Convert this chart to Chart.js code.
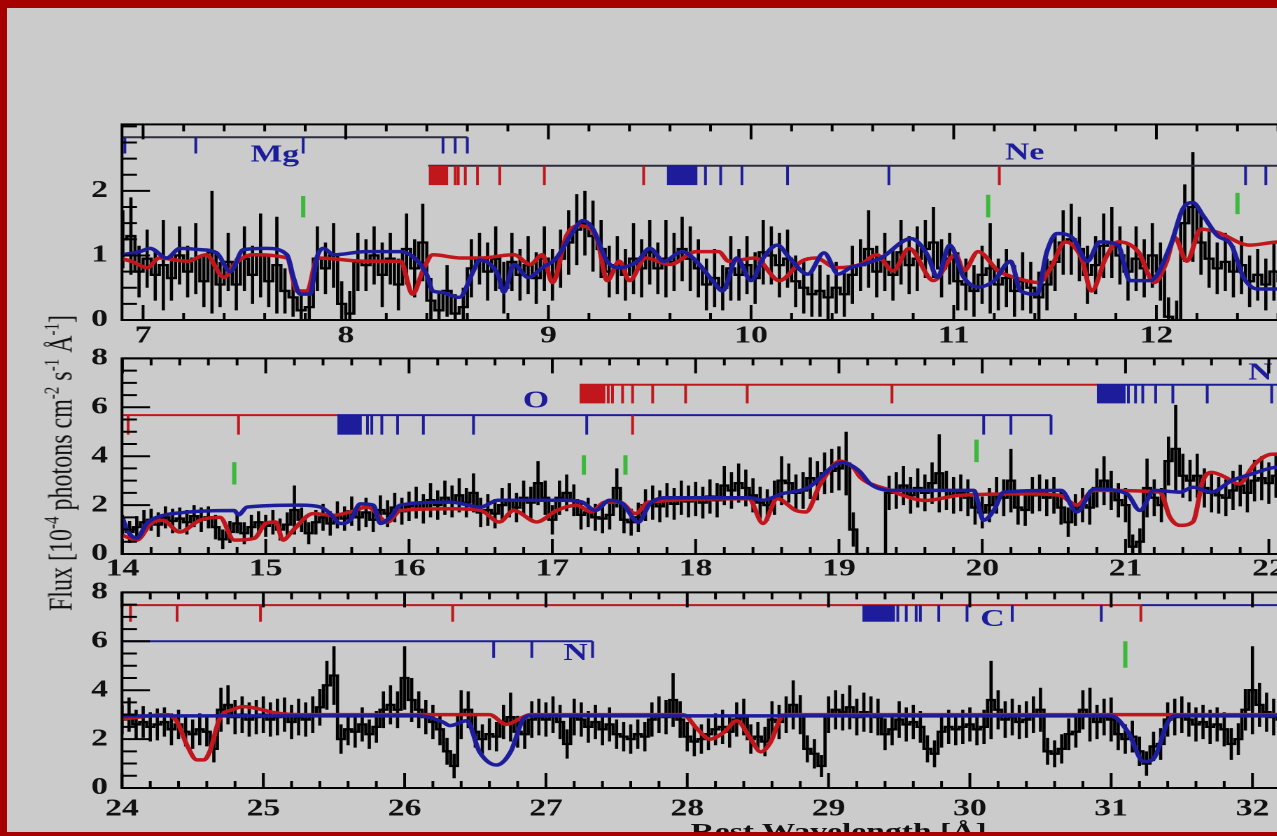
<!DOCTYPE html>
<html>
<head>
<meta charset="utf-8">
<title>Rest wavelength spectrum</title>
<script src="https://cdn.jsdelivr.net/npm/chart.js@4.4.1/dist/chart.umd.min.js"></script>
<style>
  html, body { margin: 0; padding: 0; width: 1277px; height: 836px; overflow: hidden; background: #cbcbcb; }
  #stage { position: absolute; left: 0; top: 0; width: 940px; height: 836px; transform: scaleX(1.4); transform-origin: 0 0; }
  #stage canvas { position: absolute; left: 0; }
  #ytitle { position: absolute; left: -156px; top: 449px; width: 400px; height: 28px; line-height: 28px; text-align: center;
            transform: rotate(-90deg); font: 24px "Liberation Serif", serif; color: #111; white-space: nowrap; }
  #ytitle sup { font-size: 15px; vertical-align: 9px; line-height: 0; }
  #xtitle { position: absolute; left: 399px; width: 400px; top: 818px; text-align: center; line-height: 24px;
            font: bold 24px "Liberation Serif", serif; color: #111; }
  #border { position: absolute; left: 0; top: 0; width: 1277px; height: 836px; box-sizing: border-box;
            border-style: solid; border-color: #a60000; border-width: 8px 0 4px 7px; pointer-events: none; }
</style>
</head>
<body>
<div id="stage">
  <canvas id="c1"></canvas>
  <canvas id="c2"></canvas>
  <canvas id="c3"></canvas>
  <div id="ytitle">Flux [10<sup>-4</sup> photons cm<sup>-2</sup> s<sup>-1</sup> Å<sup>-1</sup>]</div>
  <div id="xtitle">Rest Wavelength [Å]</div>
</div>
<div id="border"></div>

<script>
// ---------- panel 1 : 7 - 12.7 A ----------
const p1Start = 6.90, p1Bin = 0.04;
const p1Flux = [
  1.25, 1.30, 0.75, 0.95, 0.70, 0.85, 0.65, 1.00, 0.75, 0.95,
  0.60, 1.05, 0.55, 0.90, 0.55, 0.95, 0.70, 1.00, 0.60, 0.85,
  0.45, 0.35, 0.15, 0.20, 0.95, 0.80, 1.00, 0.25, 0.10, 0.90,
  0.85, 1.00, 0.70, 0.95, 0.55, 1.10, 0.80, 1.20, 0.30, 0.15,
  0.45, 0.10, 0.20, 0.80, 0.95, 0.75, 0.95, 0.50, 0.90, 0.70,
  0.85, 0.65, 0.95, 0.70, 0.95, 1.20, 1.40, 1.50, 1.30, 1.10,
  0.75, 0.85, 0.70, 0.95, 0.80, 1.05, 0.80, 0.95, 0.90, 1.10,
  0.95, 0.80, 0.55, 0.65, 0.50, 0.80, 0.70, 0.85, 0.65, 1.05,
  1.00, 0.85, 0.95, 0.60, 0.50, 0.40, 0.45, 0.35, 0.50, 0.40,
  0.70, 0.85, 1.10, 0.75, 0.90, 0.70, 1.05, 0.85, 0.95, 1.10,
  1.20, 0.80, 0.95, 0.60, 0.55, 0.45, 0.70, 0.80, 0.55, 0.65,
  0.45, 0.60, 0.50, 0.35, 0.55, 0.90, 1.20, 1.25, 1.10, 0.70,
  0.85, 1.15, 1.20, 1.00, 0.75, 0.95, 0.80, 1.00, 0.75, 0.05,
  0.00, 1.50, 1.75, 1.20, 0.95, 0.80, 0.90, 0.75, 0.85, 0.60,
  0.70, 0.55, 0.75, 0.60, 0.75, 0.65, 0.70
];
const p1Err = [
  0.45, 0.60, 0.40, 0.45, 0.40, 0.70, 0.35, 0.45, 0.40, 0.55,
  0.40, 0.95, 0.35, 0.45, 0.40, 0.50, 0.45, 0.65, 0.40, 0.75,
  0.35, 0.30, 0.30, 0.30, 0.50, 0.40, 0.50, 0.35, 0.35, 0.45,
  0.40, 0.45, 0.50, 0.40, 0.40, 0.55, 0.45, 0.60, 0.35, 0.30,
  0.40, 0.30, 0.30, 0.45, 0.40, 0.45, 0.50, 0.40, 0.45, 0.40,
  0.45, 0.40, 0.50, 0.40, 0.45, 0.50, 0.55, 0.50, 0.55, 0.45,
  0.40, 0.45, 0.40, 0.55, 0.45, 0.50, 0.40, 0.60, 0.45, 0.50,
  0.50, 0.45, 0.40, 0.45, 0.35, 0.50, 0.40, 0.45, 0.40, 0.50,
  0.45, 0.50, 0.45, 0.40, 0.40, 0.35, 0.40, 0.35, 0.40, 0.35,
  0.45, 0.40, 0.60, 0.40, 0.45, 0.40, 0.50, 0.45, 0.50, 0.45,
  0.55, 0.45, 0.40, 0.45, 0.40, 0.40, 0.45, 0.70, 0.40, 0.45,
  0.40, 0.45, 0.40, 0.40, 0.40, 0.45, 0.50, 0.55, 0.50, 0.45,
  0.45, 0.50, 0.55, 0.45, 0.45, 0.50, 0.45, 0.50, 0.45, 0.30,
  0.30, 0.60, 0.85, 0.50, 0.45, 0.40, 0.45, 0.40, 0.45, 0.40,
  0.40, 0.40, 0.45, 0.40, 0.40, 0.40, 0.40
];
const p1Red = [
  [6.895,0.95],[6.95,0.90],[7.02,0.81],[7.08,0.96],[7.22,0.91],[7.31,1.01],[7.40,0.66],[7.45,0.86],
  [7.54,1.01],[7.71,0.96],[7.76,0.45],[7.81,0.45],[7.86,0.96],[8.10,0.91],[8.27,0.91],[8.33,0.40],
  [8.38,0.76],[8.43,1.01],[8.57,0.96],[8.66,0.96],[8.83,1.01],[8.91,0.86],[8.97,1.01],[9.02,0.58],
  [9.09,1.31],[9.15,1.46],[9.24,1.26],[9.29,0.61],[9.35,0.91],[9.40,0.61],[9.48,0.96],[9.60,0.86],
  [9.73,1.06],[9.84,1.06],[9.89,0.91],[10.02,0.96],[10.14,0.61],[10.25,0.91],[10.32,0.96],[10.42,0.81],
  [10.54,0.86],[10.62,1.01],[10.70,0.76],[10.78,1.11],[10.90,0.61],[11.01,1.01],[11.05,0.76],[11.12,1.06],
  [11.22,0.76],[11.30,0.66],[11.42,0.58],[11.48,0.81],[11.55,1.21],[11.63,0.96],[11.68,0.45],[11.75,0.96],
  [11.81,1.21],[11.91,1.06],[11.99,0.58],[12.05,0.90],[12.09,1.28],[12.15,0.91],[12.22,1.41],[12.30,1.36],
  [12.46,1.16],[12.60,1.21],[12.77,1.22]
];
const p1Blue = [
  [6.895,1.01],[6.985,1.06],[7.034,1.11],[7.117,0.96],[7.182,1.11],[7.281,1.09],[7.363,1.04],[7.43,0.75],
  [7.495,1.09],[7.61,1.11],[7.71,1.01],[7.742,0.66],[7.775,0.40],[7.824,0.40],[7.857,0.96],[7.89,1.11],
  [7.94,1.01],[8.10,1.06],[8.27,1.06],[8.35,0.93],[8.40,0.70],[8.43,0.45],[8.47,0.43],[8.56,0.35],
  [8.63,0.76],[8.66,0.93],[8.75,0.71],[8.78,0.43],[8.83,0.86],[8.90,0.66],[8.97,0.81],[9.04,0.96],
  [9.11,1.31],[9.17,1.54],[9.22,1.41],[9.29,0.91],[9.35,0.81],[9.44,0.91],[9.50,1.11],[9.57,0.91],
  [9.66,1.06],[9.73,0.91],[9.81,0.61],[9.86,0.45],[9.93,0.96],[10.00,0.61],[10.06,0.96],[10.13,1.16],
  [10.19,0.96],[10.28,0.71],[10.36,1.04],[10.43,0.71],[10.49,0.81],[10.55,0.86],[10.64,0.96],[10.79,1.26],
  [10.87,1.01],[10.92,0.66],[10.98,1.16],[11.05,0.66],[11.12,0.51],[11.20,0.61],[11.28,0.91],[11.33,0.45],
  [11.41,0.40],[11.46,1.06],[11.51,1.34],[11.59,1.26],[11.66,0.91],[11.72,1.21],[11.81,1.16],[11.87,0.61],
  [11.97,0.61],[12.07,1.16],[12.13,1.72],[12.18,1.82],[12.23,1.62],[12.30,1.31],[12.37,1.16],[12.43,0.66],
  [12.50,0.48],[12.60,0.48],[12.77,0.50]
];
const p1XTicks = [7, 8, 9, 10, 11, 12];
const p1YTicks = [0, 1, 2];
const p1MgLines = [6.91, 7.26, 7.79, 8.48, 8.54, 8.60];
const p1RedBand = [8.41, 8.505];
const p1RedLines = [8.54, 8.555, 8.59, 8.65, 8.76, 8.98, 9.47, 11.225];
const p1BlueBand = [9.585, 9.735];
const p1BlueLines = [9.775, 9.85, 9.955, 10.18, 10.68, 12.44, 12.54];
const p1Green = [7.79, 11.17, 12.40];

// ---------- panel 2 : 14 - 22 A ----------
const p2Start = 14.00, p2Bin = 0.05;
const p2Flux = [
  1.20, 0.90, 1.10, 1.30, 1.40, 1.20, 1.50, 1.35, 1.45, 1.30,
  1.55, 1.40, 1.50, 1.10, 0.60, 0.90, 1.25, 0.85, 1.10, 1.30,
  1.15, 1.30, 1.00, 1.20, 1.80, 1.40, 0.85, 1.30, 1.50, 1.25,
  1.60, 1.45, 1.75, 1.50, 1.70, 1.40, 1.80, 1.65, 1.90, 1.75,
  1.95, 2.10, 1.85, 2.20, 2.00, 2.30, 2.15, 2.40, 2.10, 2.50,
  1.70, 1.80, 1.65, 2.00, 2.20, 1.90, 2.30, 2.10, 2.90, 2.30,
  1.40, 2.30, 2.50, 2.20, 1.60, 1.70, 1.50, 1.45, 1.60, 2.70,
  1.40, 1.30, 1.50, 2.00, 2.10, 1.95, 2.20, 2.05, 2.30, 2.15,
  2.25, 2.10, 2.35, 2.20, 2.80, 2.60, 2.90, 2.70, 2.40, 2.10,
  2.00, 2.30, 3.00, 2.90, 2.50, 2.60, 3.10, 3.00, 3.30, 3.40,
  3.50, 3.70, 1.00, 0.00, 0.00, 0.00, 0.00, 2.50, 2.60, 2.80,
  2.40, 2.70, 2.50, 2.90, 3.30, 2.60, 2.40, 2.50, 2.30, 1.90,
  1.70, 2.00, 2.40, 2.30, 3.00, 1.90, 1.80, 2.40, 2.50, 2.30,
  2.40, 1.90, 1.30, 1.80, 2.00, 1.90, 2.70, 3.00, 2.60, 2.20,
  2.00, 0.30, 0.50, 2.70, 2.30, 2.00, 3.80, 4.30, 3.20, 3.00,
  3.20, 2.70, 2.50, 2.40, 2.30, 2.60, 2.80, 2.50, 3.00, 3.10,
  2.90, 3.20, 3.00, 3.30, 3.10, 3.20, 3.30
];
const p2Err = [
  0.40, 0.45, 0.45, 0.50, 0.45, 0.50, 0.45, 0.50, 0.45, 0.50,
  0.45, 0.50, 0.45, 0.50, 0.40, 0.45, 0.40, 0.45, 0.50, 0.45,
  0.45, 0.50, 0.45, 0.50, 1.00, 0.50, 0.45, 0.50, 0.55, 0.50,
  0.55, 0.50, 0.60, 0.55, 0.60, 0.50, 0.60, 0.55, 0.60, 0.55,
  0.60, 0.65, 0.60, 0.70, 0.60, 0.70, 0.65, 0.70, 0.60, 0.80,
  0.60, 0.65, 0.60, 0.70, 0.70, 0.60, 0.70, 0.65, 0.90, 0.70,
  0.60, 0.70, 0.75, 0.65, 0.60, 0.60, 0.55, 0.60, 0.60, 0.80,
  0.55, 0.55, 0.60, 0.65, 0.70, 0.65, 0.70, 0.65, 0.70, 0.65,
  0.70, 0.65, 0.70, 0.70, 0.80, 0.75, 0.80, 0.75, 0.70, 0.65,
  0.65, 0.70, 1.00, 0.80, 0.75, 0.75, 0.85, 0.80, 0.85, 0.90,
  0.90, 1.30, 0.70, 0.00, 0.00, 0.00, 0.00, 0.70, 0.75, 0.80,
  0.75, 0.80, 0.75, 0.85, 1.60, 0.80, 0.75, 0.75, 0.75, 0.70,
  0.65, 0.70, 0.75, 0.75, 1.30, 0.70, 0.65, 0.75, 0.75, 0.75,
  0.75, 0.70, 0.60, 0.65, 0.70, 0.70, 0.80, 1.00, 0.80, 0.70,
  0.70, 0.50, 0.55, 1.20, 0.75, 0.70, 1.00, 1.80, 0.90, 0.85,
  0.90, 0.80, 0.80, 0.75, 0.75, 0.80, 0.85, 0.80, 0.85, 0.90,
  0.85, 0.90, 0.85, 0.90, 0.85, 0.90, 0.90
];
const p2Red = [
  [14.00,0.77],[14.10,0.57],[14.20,1.25],[14.28,1.38],[14.40,0.90],[14.54,1.38],[14.68,1.50],[14.78,0.57],
  [14.92,0.64],[15.00,1.25],[15.07,1.31],[15.12,0.57],[15.19,0.97],[15.33,1.65],[15.47,1.58],[15.59,1.72],
  [15.71,1.92],[15.85,1.31],[15.94,1.78],[16.29,1.85],[16.50,1.78],[16.63,1.31],[16.73,1.78],[16.89,1.31],
  [17.03,1.78],[17.17,2.00],[17.27,1.72],[17.37,2.12],[17.47,2.12],[17.58,1.65],[17.67,2.12],[18.37,2.26],
  [18.47,1.25],[18.57,2.26],[18.70,1.78],[18.77,1.72],[18.87,2.86],[19.01,3.80],[19.10,3.54],[19.15,3.13],
  [19.33,2.66],[19.61,2.19],[19.84,2.40],[20.31,2.46],[20.54,2.40],[20.66,2.00],[20.78,2.60],[21.24,2.53],
  [21.31,1.50],[21.38,1.17],[21.47,1.31],[21.54,3.00],[21.60,3.34],[21.70,3.13],[21.79,2.86],[21.90,3.67],
  [22.02,4.08],[22.30,4.10]
];
const p2Blue = [
  [14.00,1.50],[14.03,1.00],[14.10,0.65],[14.17,1.25],[14.24,1.50],[14.43,1.70],[14.78,1.78],[14.81,1.60],
  [14.87,1.92],[15.24,2.00],[15.38,1.92],[15.45,1.65],[15.52,1.25],[15.59,1.38],[15.66,2.05],[15.75,2.00],
  [15.80,1.25],[15.87,1.50],[15.94,2.00],[16.29,2.12],[16.50,1.92],[16.62,2.20],[17.09,2.20],[17.21,2.12],
  [17.30,1.78],[17.40,2.20],[17.49,2.05],[17.60,1.30],[17.68,2.05],[17.79,2.30],[18.37,2.30],[18.47,2.20],
  [18.60,2.46],[18.79,2.73],[18.95,3.54],[19.02,3.74],[19.14,3.40],[19.22,2.86],[19.36,2.60],[19.94,2.60],
  [20.01,1.38],[20.08,1.78],[20.15,2.53],[20.55,2.60],[20.66,1.72],[20.78,2.66],[21.01,2.46],[21.10,1.78],
  [21.20,2.60],[21.38,2.53],[21.47,2.73],[21.60,2.53],[21.74,3.00],[21.88,3.27],[22.04,3.54],[22.30,3.60]
];
const p2XTicks = [14, 15, 16, 17, 18, 19, 20, 21, 22];
const p2YTicks = [0, 2, 4, 6, 8];
const p2LowRedLines = [14.04, 14.81, 17.56];
const p2LowBlueBand = [15.50, 15.67];
const p2LowBlueLines = [15.71, 15.74, 15.81, 15.92, 16.10, 16.45, 17.24, 20.01, 20.20, 20.48];
const p2HighRedBand = [17.19, 17.37];
const p2HighRedLines = [17.39, 17.42, 17.49, 17.56, 17.70, 17.93, 18.36, 19.37];
const p2HighBlueBand = [20.80, 21.00];
const p2HighBlueLines = [21.02, 21.07, 21.12, 21.21, 21.33, 21.57, 22.02];
const p2Green = [14.78, 17.22, 17.51, 19.96];

// ---------- panel 3 : 24 - 32 A ----------
const p3Start = 24.00, p3Bin = 0.05;
const p3Flux = [
  2.80, 3.00, 2.60, 2.70, 2.50, 2.60, 2.70, 2.40, 2.60, 2.30,
  2.20, 2.40, 2.30, 1.60, 3.20, 3.40, 2.90, 3.00, 2.80, 2.90,
  3.00, 2.80, 2.90, 3.00, 2.70, 2.90, 2.80, 3.00, 3.30, 4.20,
  4.60, 2.00, 2.40, 2.30, 2.60, 2.20, 2.50, 3.20, 3.40, 3.20,
  4.50, 3.60, 3.20, 2.90, 2.70, 2.40, 1.50, 0.90, 3.00, 3.20,
  2.30, 2.00, 2.20, 2.10, 2.70, 2.90, 2.30, 2.20, 2.80, 2.90,
  2.80, 3.00, 2.70, 1.80, 2.90, 2.80, 2.50, 2.70, 2.40, 2.60,
  2.20, 2.10, 2.00, 2.20, 2.10, 2.80, 3.00, 2.90, 3.60, 2.80,
  2.10, 1.90, 2.00, 2.20, 2.40, 2.50, 2.30, 2.80, 2.90, 2.00,
  2.10, 1.90, 2.80, 2.70, 3.00, 3.40, 3.00, 1.60, 1.40, 0.90,
  3.00, 3.20, 3.10, 3.30, 2.90, 3.10, 3.00, 2.90, 2.20, 2.40,
  2.80, 2.60, 2.70, 2.50, 1.60, 1.40, 2.30, 2.50, 2.40, 2.50,
  2.60, 2.40, 2.50, 3.60, 3.20, 2.80, 2.90, 2.70, 2.80, 3.00,
  3.20, 1.50, 1.40, 1.60, 2.20, 2.30, 3.20, 3.00, 2.70, 2.90,
  2.80, 2.20, 2.00, 2.10, 1.50, 1.00, 1.70, 1.80, 2.80, 2.90,
  3.00, 2.80, 2.60, 2.70, 2.50, 2.60, 2.40, 1.80, 2.00, 3.20,
  4.00, 3.40, 3.10, 2.90, 2.80, 3.00, 2.90, 2.80, 3.00
];
const p3Err = [
  0.60, 0.70, 0.60, 0.65, 0.60, 0.65, 0.60, 0.65, 0.60, 0.60,
  0.60, 0.65, 0.60, 0.55, 0.90, 0.80, 0.70, 0.75, 0.70, 0.70,
  0.75, 0.70, 0.75, 0.70, 0.70, 0.75, 0.70, 0.75, 0.75, 1.00,
  1.20, 0.60, 0.65, 0.65, 0.70, 0.60, 0.65, 0.75, 0.80, 0.75,
  1.30, 0.90, 0.75, 0.70, 0.70, 0.65, 0.55, 0.50, 1.00, 0.75,
  0.65, 0.60, 0.65, 0.60, 0.70, 1.00, 0.65, 0.60, 0.75, 0.75,
  0.70, 0.75, 0.70, 0.60, 0.75, 0.70, 0.65, 0.70, 0.65, 0.70,
  0.60, 0.60, 0.60, 0.60, 0.60, 0.70, 0.75, 0.70, 1.10, 0.75,
  0.60, 0.60, 0.60, 0.65, 0.65, 0.70, 0.65, 0.70, 0.75, 0.60,
  0.60, 0.60, 0.75, 0.70, 0.75, 1.00, 0.80, 0.55, 0.60, 0.45,
  0.75, 0.80, 0.75, 0.90, 0.75, 0.80, 0.75, 0.75, 0.65, 0.65,
  0.75, 0.70, 0.70, 0.65, 0.55, 0.55, 0.65, 0.70, 0.65, 0.70,
  0.70, 0.65, 0.70, 1.60, 0.80, 0.75, 0.75, 0.70, 0.75, 0.75,
  0.90, 0.55, 0.55, 0.60, 0.65, 0.65, 0.80, 1.10, 0.70, 0.75,
  0.90, 0.65, 0.60, 0.65, 0.60, 0.50, 0.60, 0.65, 0.70, 0.75,
  0.75, 0.70, 0.70, 0.70, 0.70, 0.70, 0.70, 0.65, 0.65, 0.85,
  1.80, 0.90, 0.80, 0.75, 0.75, 0.75, 0.75, 0.75, 0.75
];
const p3Red = [
  [24.00,2.82],[24.32,3.00],[24.39,2.70],[24.46,1.75],[24.53,1.15],[24.58,1.15],[24.62,1.48],[24.69,2.82],
  [24.79,3.22],[24.86,3.33],[24.98,3.22],[25.07,3.09],[25.26,3.00],[26.60,3.00],[26.72,2.60],[26.82,2.85],
  [26.89,3.00],[27.97,3.00],[28.07,2.42],[28.16,2.00],[28.26,2.28],[28.35,2.75],[28.45,2.00],[28.52,1.48],
  [28.59,1.88],[28.66,2.85],[28.70,3.00],[32.45,3.00]
];
const p3Blue = [
  [24.00,2.95],[26.10,2.95],[26.27,2.70],[26.32,2.55],[26.44,2.75],[26.53,1.48],[26.65,0.94],[26.75,1.48],
  [26.84,2.82],[26.89,2.95],[31.00,2.95],[31.12,2.28],[31.23,1.08],[31.30,1.20],[31.40,2.68],[31.45,2.95],
  [32.45,2.95]
];
const p3XTicks = [24, 25, 26, 27, 28, 29, 30, 31, 32];
const p3YTicks = [0, 2, 4, 6, 8];
const p3TopRedLines = [24.06, 24.39, 24.98, 26.34, 31.21];
const p3TopBlueBand = [29.24, 29.47];
const p3TopBlueLines = [29.49, 29.55, 29.62, 29.65, 29.78, 29.98, 30.30, 30.93];
const p3LowBlueLines = [26.63, 26.90, 27.33];
const p3Green = [31.10];

// ---------- drawing ----------
const S = 1.4;                       // the picture is stretched sideways
const LEFT = 122 / S;                // left edge of every frame
const CANVAS_W = Math.round(1310 / S);
const BLUE = '#1d1d9b', RED = '#c0161c', DARK = '#2c2c3c', GREEN = '#3cb83c', INK = '#000';
const tickFont = { family: '"Liberation Serif", serif', size: 24, weight: 'bold' };

function makePanel(id, top, cfg) {
  const cv = document.getElementById(id);
  cv.width = CANVAS_W;
  cv.height = 260;
  cv.style.top = top + 'px';

  const spec = cfg.flux.map((f, i) => ({ x: +(cfg.start + i * cfg.bin).toFixed(3), y: f }));

  const errorBars = {
    id: 'errorBars',
    beforeDatasetsDraw(chart) {
      const { ctx, chartArea: a, scales: { x, y } } = chart;
      ctx.save();
      ctx.beginPath();
      ctx.rect(a.left, a.top, a.right - a.left, a.bottom - a.top);
      ctx.clip();
      ctx.strokeStyle = INK;
      ctx.lineWidth = 2.3;
      ctx.beginPath();
      spec.forEach((p, i) => {
        const px = x.getPixelForValue(p.x);
        ctx.moveTo(px, y.getPixelForValue(p.y - cfg.err[i]));
        ctx.lineTo(px, y.getPixelForValue(p.y + cfg.err[i]));
      });
      ctx.stroke();
      ctx.restore();
    }
  };

  const decor = {
    id: 'decor',
    afterDatasetsDraw(chart) {
      const { ctx, chartArea: a, scales: { x, y } } = chart;
      ctx.save();
      ctx.beginPath();
      ctx.rect(a.left, a.top, a.right - a.left, a.bottom - a.top);
      ctx.clip();
      ctx.lineWidth = 2;
      cfg.rules.forEach(r => {
        ctx.strokeStyle = r.color;
        ctx.beginPath();
        ctx.moveTo(x.getPixelForValue(r.from), y.getPixelForValue(r.at));
        ctx.lineTo(x.getPixelForValue(r.to), y.getPixelForValue(r.at));
        ctx.stroke();
      });
      cfg.bands.forEach(b => {
        ctx.fillStyle = b.color;
        const x0 = x.getPixelForValue(b.band[0]), x1 = x.getPixelForValue(b.band[1]);
        const y0 = y.getPixelForValue(b.top), y1 = y.getPixelForValue(b.bottom);
        ctx.fillRect(x0, y0, x1 - x0, y1 - y0);
      });
      cfg.marks.forEach(m => {
        ctx.strokeStyle = m.color;
        ctx.beginPath();
        m.lines.forEach(w => {
          const px = x.getPixelForValue(w);
          ctx.moveTo(px, y.getPixelForValue(m.top));
          ctx.lineTo(px, y.getPixelForValue(m.bottom));
        });
        ctx.stroke();
      });
      ctx.strokeStyle = GREEN;
      ctx.lineWidth = 3;
      cfg.green.forEach((w, i) => {
        const px = x.getPixelForValue(w);
        ctx.beginPath();
        ctx.moveTo(px, y.getPixelForValue(cfg.greenSpan[i][0]));
        ctx.lineTo(px, y.getPixelForValue(cfg.greenSpan[i][1]));
        ctx.stroke();
      });
      ctx.fillStyle = BLUE;
      ctx.font = 'bold 24px "Liberation Serif", serif';
      ctx.textAlign = 'center';
      ctx.textBaseline = 'middle';
      cfg.labels.forEach(l => ctx.fillText(l.text, x.getPixelForValue(l.w), y.getPixelForValue(l.y)));
      ctx.restore();
    },
    afterDraw(chart) {
      const { ctx, chartArea: a, scales: { x, y } } = chart;
      ctx.save();
      ctx.strokeStyle = INK;
      ctx.lineWidth = 2;
      ctx.strokeRect(a.left, a.top, a.right - a.left, a.bottom - a.top);
      ctx.beginPath();
      // x ticks, pointing inwards at the bottom and the top
      const perX = Math.round(1 / cfg.xMinor);
      for (let k = Math.ceil(x.min / cfg.xMinor - 1e-6); k * cfg.xMinor <= x.max; k++) {
        const px = x.getPixelForValue(k * cfg.xMinor);
        const len = k % perX === 0 ? 15 : 7;
        ctx.moveTo(px, a.bottom); ctx.lineTo(px, a.bottom - len);
        ctx.moveTo(px, a.top); ctx.lineTo(px, a.top + len);
      }
      // y ticks on the left side
      for (let k = 0; k * cfg.yMinor <= y.max + 1e-6; k++) {
        const v = k * cfg.yMinor;
        const py = y.getPixelForValue(v);
        const len = cfg.yTicks.some(t => Math.abs(t - v) < 1e-6) ? 20 : 10.7;
        ctx.moveTo(a.left, py); ctx.lineTo(a.left + len, py);
      }
      ctx.stroke();
      ctx.restore();
    }
  };

  return new Chart(cv, {
    type: 'line',
    data: {
      datasets: [
        { data: cfg.blue.map(([x, y]) => ({ x, y })), borderColor: BLUE, borderWidth: 3.5,
          cubicInterpolationMode: 'monotone', pointRadius: 0 },
        { data: cfg.red.map(([x, y]) => ({ x, y })), borderColor: RED, borderWidth: 3.5,
          cubicInterpolationMode: 'monotone', pointRadius: 0 },
        { data: spec, borderColor: INK, borderWidth: 2.3, stepped: 'middle', pointRadius: 0 }
      ]
    },
    options: {
      responsive: false,
      animation: false,
      devicePixelRatio: 2,
      events: [],
      layout: { padding: { top: 20, left: 0, right: 0, bottom: 0 } },
      plugins: { legend: { display: false }, tooltip: { enabled: false } },
      scales: {
        x: {
          type: 'linear', min: cfg.xMin, max: cfg.xMax,
          afterBuildTicks: s => { s.ticks = cfg.xTicks.map(v => ({ value: v })); },
          afterFit: s => { s.height = 40; },
          grid: { display: false, drawTicks: false },
          border: { display: false },
          ticks: { color: '#111', font: tickFont, padding: cfg.xPad, maxRotation: 0, autoSkip: false }
        },
        y: {
          type: 'linear', min: 0, max: cfg.yMax,
          afterBuildTicks: s => { s.ticks = cfg.yTicks.map(v => ({ value: v })); },
          afterFit: s => { s.width = LEFT; },
          grid: { display: false, drawTicks: false },
          border: { display: false },
          ticks: { color: '#111', font: tickFont, padding: 10, autoSkip: false }
        }
      }
    },
    plugins: [errorBars, decor]
  });
}

makePanel('c1', 100, {
  start: p1Start, bin: p1Bin, flux: p1Flux, err: p1Err, red: p1Red, blue: p1Blue,
  xMin: 6.896, xMax: 12.76, yMax: 3.03, xTicks: p1XTicks, yTicks: p1YTicks,
  xMinor: 0.2, yMinor: 0.25, xPad: 2,
  rules: [
    { from: 6.896, to: 8.60, at: 2.83, color: DARK },
    { from: 8.407, to: 12.9, at: 2.39, color: DARK }
  ],
  bands: [
    { band: p1RedBand, top: 2.39, bottom: 2.09, color: RED },
    { band: p1BlueBand, top: 2.39, bottom: 2.09, color: BLUE }
  ],
  marks: [
    { lines: p1MgLines, top: 2.83, bottom: 2.58, color: BLUE },
    { lines: p1RedLines, top: 2.39, bottom: 2.09, color: RED },
    { lines: p1BlueLines, top: 2.39, bottom: 2.09, color: BLUE }
  ],
  green: p1Green, greenSpan: [[1.59, 1.92], [1.59, 1.94], [1.64, 1.97]],
  labels: [{ text: 'Mg', w: 7.65, y: 2.55 }, { text: 'Ne', w: 11.35, y: 2.58 }]
});

makePanel('c2', 334, {
  start: p2Start, bin: p2Bin, flux: p2Flux, err: p2Err, red: p2Red, blue: p2Blue,
  xMin: 13.997, xMax: 22.29, yMax: 8, xTicks: p2XTicks, yTicks: p2YTicks,
  xMinor: 0.2, yMinor: 0.5, xPad: 1,
  rules: [
    { from: 13.99, to: 15.50, at: 5.68, color: RED },
    { from: 15.50, to: 20.48, at: 5.68, color: BLUE },
    { from: 17.19, to: 20.80, at: 6.92, color: RED },
    { from: 20.80, to: 22.40, at: 6.92, color: BLUE }
  ],
  bands: [
    { band: p2LowBlueBand, top: 5.68, bottom: 4.88, color: BLUE },
    { band: p2HighRedBand, top: 6.92, bottom: 6.16, color: RED },
    { band: p2HighBlueBand, top: 6.92, bottom: 6.16, color: BLUE }
  ],
  marks: [
    { lines: p2LowRedLines, top: 5.68, bottom: 4.88, color: RED },
    { lines: p2LowBlueLines, top: 5.68, bottom: 4.88, color: BLUE },
    { lines: p2HighRedLines, top: 6.92, bottom: 6.16, color: RED },
    { lines: p2HighBlueLines, top: 6.92, bottom: 6.16, color: BLUE }
  ],
  green: p2Green, greenSpan: [[2.84, 3.76], [3.24, 4.04], [3.24, 4.04], [3.76, 4.68]],
  labels: [{ text: 'O', w: 16.886, y: 6.24 }, { text: 'N', w: 21.94, y: 7.4 }]
});

makePanel('c3', 568, {
  start: p3Start, bin: p3Bin, flux: p3Flux, err: p3Err, red: p3Red, blue: p3Blue,
  xMin: 24.0, xMax: 32.41, yMax: 8, xTicks: p3XTicks, yTicks: p3YTicks,
  xMinor: 0.2, yMinor: 0.5, xPad: 7,
  rules: [
    { from: 24.0, to: 31.21, at: 7.48, color: RED },
    { from: 31.21, to: 32.50, at: 7.48, color: BLUE },
    { from: 24.0, to: 27.33, at: 6.0, color: BLUE }
  ],
  bands: [
    { band: p3TopBlueBand, top: 7.48, bottom: 6.8, color: BLUE }
  ],
  marks: [
    { lines: p3TopRedLines, top: 7.48, bottom: 6.8, color: RED },
    { lines: p3TopBlueLines, top: 7.48, bottom: 6.8, color: BLUE },
    { lines: p3LowBlueLines, top: 6.0, bottom: 5.32, color: BLUE }
  ],
  green: p3Green, greenSpan: [[4.92, 6.0]],
  labels: [{ text: 'N', w: 27.21, y: 5.48 }, { text: 'C', w: 30.16, y: 6.88 }]
});
</script>
</body>
</html>
